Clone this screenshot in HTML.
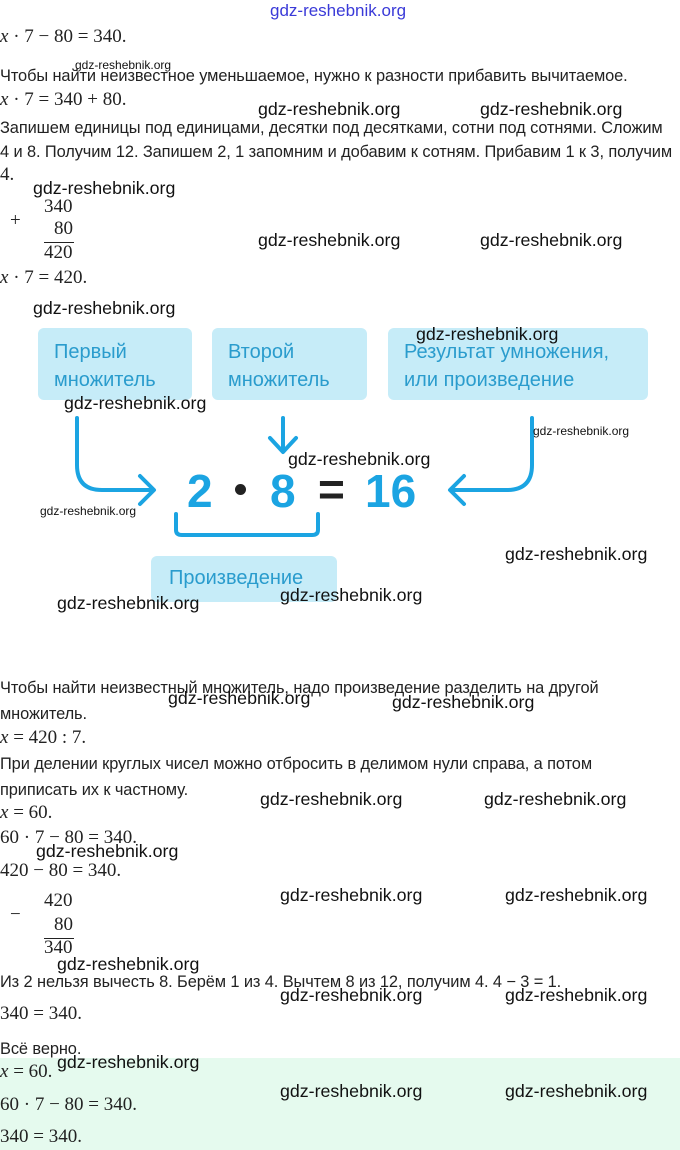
<!DOCTYPE html><html><head><meta charset="utf-8"><style>
body{margin:0;width:680px;height:1150px;position:relative;background:#fff;overflow:hidden;font-family:"Liberation Sans","DejaVu Sans",sans-serif;color:#222}
.t{position:absolute;white-space:nowrap;font-size:16.4px;line-height:20px;letter-spacing:-0.1px}
.m{position:absolute;white-space:nowrap;font-family:"Liberation Serif",serif;font-size:19px;line-height:22px;color:#222}
.w{position:absolute;white-space:nowrap;font-size:17.8px;color:#111;font-family:"Liberation Sans",sans-serif}
.ws{position:absolute;white-space:nowrap;font-size:12px;color:#111}
.box{position:absolute;background:#c6ecf8;border-radius:6px;color:#2a9ccd;font-size:20px;line-height:28px;padding:10px 16px;box-sizing:border-box}
.n{position:absolute;font-size:46px;font-weight:bold;color:#1ba4e2;line-height:46px}
</style></head><body>
<div class="w" style="left:270px;top:1px;color:#3a3ad8;font-size:17px">gdz-reshebnik.org</div>
<div class="m" style="left:0;top:26px"><i>x</i> · 7 − 80 = 340.</div>
<div class="ws" style="left:75px;top:58px">gdz-reshebnik.org</div>
<div class="t" style="left:0;top:66px">Чтобы найти неизвестное уменьшаемое, нужно к разности прибавить вычитаемое.</div>
<div class="m" style="left:0;top:89px"><i>x</i> · 7 = 340 + 80.</div>
<div class="w" style="left:258px;top:99px">gdz-reshebnik.org</div>
<div class="w" style="left:480px;top:99px">gdz-reshebnik.org</div>
<div class="t" style="left:0;top:118px">Запишем единицы под единицами, десятки под десятками, сотни под сотнями. Сложим</div>
<div class="t" style="left:0;top:142px">4 и 8. Получим 12. Запишем 2, 1 запомним и добавим к сотням. Прибавим 1 к 3, получим</div>
<div class="m" style="left:0;top:164px">4.</div>
<div class="w" style="left:33px;top:178px">gdz-reshebnik.org</div>
<div class="m" style="left:44px;top:196px">340</div>
<div class="m" style="left:10px;top:210px">+</div>
<div class="m" style="left:54px;top:218px">80</div>
<div style="position:absolute;left:44px;top:242px;width:30px;border-top:1px solid #222"></div>
<div class="m" style="left:44px;top:242px">420</div>
<div class="w" style="left:258px;top:230px">gdz-reshebnik.org</div>
<div class="w" style="left:480px;top:230px">gdz-reshebnik.org</div>
<div class="m" style="left:0;top:267px"><i>x</i> · 7 = 420.</div>
<div class="w" style="left:33px;top:298px">gdz-reshebnik.org</div>

<div class="box" style="left:38px;top:328px;width:154px;height:72px">Первый<br>множитель</div>
<div class="box" style="left:212px;top:328px;width:155px;height:72px">Второй<br>множитель</div>
<div class="box" style="left:388px;top:328px;width:260px;height:72px">Результат умножения,<br>или произведение</div>
<svg style="position:absolute;left:0;top:0" width="680" height="620">
<g fill="none" stroke="#1ba4e2" stroke-width="4" stroke-linecap="round" stroke-linejoin="round">
<path d="M77 418 V465 Q77 490 102 490 H152"/><path d="M140 476 L154 490 L140 504"/>
<path d="M283 418 V450"/><path d="M270 438 L283 452 L296 438"/>
<path d="M532 418 V465 Q532 490 507 490 H452"/><path d="M464 476 L450 490 L464 504"/>
<path d="M176 514 V530 Q176 535 182 535 H312 Q318 535 318 530 V514"/>
</g></svg>
<div class="n" style="left:187px;top:468px">2</div>
<div style="position:absolute;left:235px;top:484px;width:11px;height:11px;border-radius:50%;background:#222"></div>
<div class="n" style="left:270px;top:468px">8</div>
<div class="n" style="left:318px;top:466px;color:#222">=</div>
<div class="n" style="left:365px;top:468px">16</div>
<div class="box" style="left:151px;top:556px;width:186px;height:46px;padding:8px 18px">Произведение</div>

<div class="w" style="left:416px;top:324px">gdz-reshebnik.org</div>
<div class="w" style="left:64px;top:393px">gdz-reshebnik.org</div>
<div class="ws" style="left:533px;top:424px">gdz-reshebnik.org</div>
<div class="w" style="left:288px;top:449px">gdz-reshebnik.org</div>
<div class="ws" style="left:40px;top:504px">gdz-reshebnik.org</div>
<div class="w" style="left:505px;top:544px">gdz-reshebnik.org</div>
<div class="w" style="left:57px;top:593px">gdz-reshebnik.org</div>
<div class="w" style="left:280px;top:585px">gdz-reshebnik.org</div>

<div class="t" style="left:0;top:678px">Чтобы найти неизвестный множитель, надо произведение разделить на другой</div>
<div class="t" style="left:0;top:704px">множитель.</div>
<div class="w" style="left:168px;top:688px">gdz-reshebnik.org</div>
<div class="w" style="left:392px;top:692px">gdz-reshebnik.org</div>
<div class="m" style="left:0;top:727px"><i>x</i> = 420 : 7.</div>
<div class="t" style="left:0;top:754px">При делении круглых чисел можно отбросить в делимом нули справа, а потом</div>
<div class="t" style="left:0;top:780px">приписать их к частному.</div>
<div class="w" style="left:260px;top:789px">gdz-reshebnik.org</div>
<div class="w" style="left:484px;top:789px">gdz-reshebnik.org</div>
<div class="m" style="left:0;top:802px"><i>x</i> = 60.</div>
<div class="m" style="left:0;top:827px">60 · 7 − 80 = 340.</div>
<div class="w" style="left:36px;top:841px">gdz-reshebnik.org</div>
<div class="m" style="left:0;top:860px">420 − 80 = 340.</div>
<div class="w" style="left:280px;top:885px">gdz-reshebnik.org</div>
<div class="w" style="left:505px;top:885px">gdz-reshebnik.org</div>
<div class="m" style="left:44px;top:890px">420</div>
<div class="m" style="left:10px;top:904px">−</div>
<div class="m" style="left:54px;top:914px">80</div>
<div style="position:absolute;left:44px;top:938px;width:30px;border-top:1px solid #222"></div>
<div class="m" style="left:44px;top:937px">340</div>
<div class="w" style="left:57px;top:954px">gdz-reshebnik.org</div>
<div class="t" style="left:0;top:972px">Из 2 нельзя вычесть 8. Берём 1 из 4. Вычтем 8 из 12, получим 4. 4 − 3 = 1.</div>
<div class="w" style="left:280px;top:985px">gdz-reshebnik.org</div>
<div class="w" style="left:505px;top:985px">gdz-reshebnik.org</div>
<div class="m" style="left:0;top:1003px">340 = 340.</div>
<div class="t" style="left:0;top:1039px">Всё верно.</div>
<div style="position:absolute;left:0;top:1058px;width:680px;height:92px;background:#e5faee"></div>
<div class="m" style="left:0;top:1061px"><i>x</i> = 60.</div>
<div class="w" style="left:57px;top:1052px">gdz-reshebnik.org</div>
<div class="w" style="left:280px;top:1081px">gdz-reshebnik.org</div>
<div class="w" style="left:505px;top:1081px">gdz-reshebnik.org</div>
<div class="m" style="left:0;top:1094px">60 · 7 − 80 = 340.</div>
<div class="m" style="left:0;top:1126px">340 = 340.</div>
</body></html>
